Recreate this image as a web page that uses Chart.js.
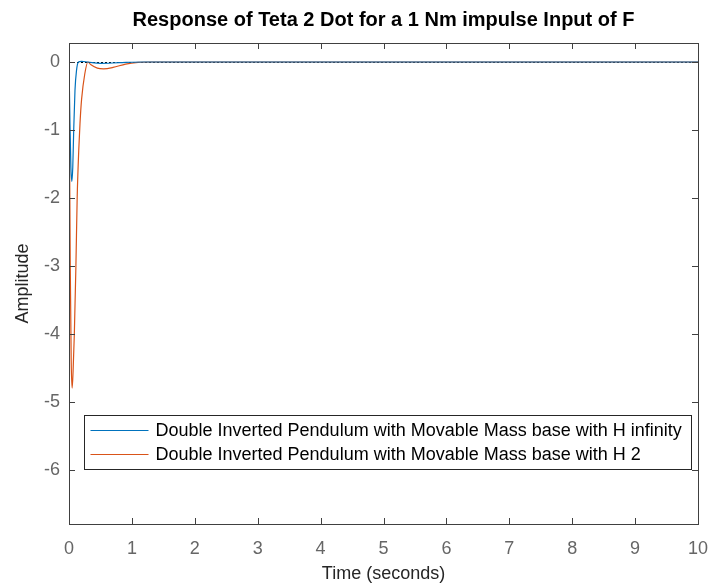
<!DOCTYPE html>
<html>
<head>
<meta charset="utf-8">
<script src="https://cdn.jsdelivr.net/npm/chart.js@4/dist/chart.umd.min.js"></script>
<style>
  html, body { margin: 0; padding: 0; background: #fff; }
  #wrap { width: 709px; height: 588px; }
</style>
</head>
<body>
<div id="wrap"><canvas id="chart" width="709" height="588"></canvas></div>
<script>
const chartTitle = 'Response of Teta 2 Dot for a 1 Nm impulse Input of F';
const seriesNames = [
  'Double Inverted Pendulum with Movable Mass base with H infinity',
  'Double Inverted Pendulum with Movable Mass base with H 2',
];

// H infinity controller response
const timeHinf = [0, 0.015, 0.03, 0.045, 0.06, 0.075, 0.095, 0.12, 0.15, 0.2, 0.3, 0.5, 0.8, 1.2, 10];
const ampHinf  = [0, -0.9, -1.55, -1.76, -1.55, -1.0, -0.42, -0.12, 0, 0.01, 0, -0.02, -0.01, 0, 0];

// H 2 controller response
const timeH2 = [0, 0.01, 0.02, 0.035, 0.05, 0.065, 0.085, 0.11, 0.13, 0.155, 0.175, 0.2, 0.25, 0.3, 0.35, 0.45, 0.55, 0.7, 0.9, 1.1, 1.3, 10];
const ampH2  = [0, -1.5, -3.0, -4.4, -4.8, -4.55, -4.0, -3.0, -2.0, -1.3, -0.9, -0.55, -0.18, 0, -0.04, -0.09, -0.1, -0.08, -0.03, -0.005, 0, 0];

const xTickValues = [0, 1, 2, 3, 4, 5, 6, 7, 8, 9, 10];
const yTickValues = [-6, -5, -4, -3, -2, -1, 0];

const FONT = 'Liberation Sans, Arial, Helvetica, sans-serif';
const seriesColors = ['#0072BD', '#D95319'];

const toPoints = (xs, ys) => xs.map((x, i) => ({ x, y: ys[i] }));

// dotted steady-state reference at zero
const zeroLine = {
  id: 'zeroLine',
  beforeDatasetsDraw(chart) {
    const { ctx, chartArea, scales } = chart;
    const y = Math.round(scales.y.getPixelForValue(0)) + 0.5;
    ctx.save();
    ctx.strokeStyle = '#000';
    ctx.lineWidth = 1;
    ctx.setLineDash([2, 2]);
    ctx.beginPath();
    ctx.moveTo(chartArea.left, y);
    ctx.lineTo(chartArea.right, y);
    ctx.stroke();
    ctx.restore();
  },
};

// box around the axes with inward ticks on every side
const axesBox = {
  id: 'axesBox',
  afterDraw(chart) {
    const { ctx, chartArea: a, scales } = chart;
    const len = 6;
    ctx.save();
    ctx.strokeStyle = '#404040';
    ctx.lineWidth = 1;
    ctx.strokeRect(Math.round(a.left) + 0.5, Math.round(a.top) + 0.5,
      Math.round(a.right - a.left), Math.round(a.bottom - a.top));
    ctx.beginPath();
    xTickValues.forEach(v => {
      const x = Math.round(scales.x.getPixelForValue(v)) + 0.5;
      ctx.moveTo(x, a.bottom); ctx.lineTo(x, a.bottom - len);
      ctx.moveTo(x, a.top); ctx.lineTo(x, a.top + len);
    });
    yTickValues.forEach(v => {
      const y = Math.round(scales.y.getPixelForValue(v)) + 0.5;
      ctx.moveTo(a.left, y); ctx.lineTo(a.left + len, y);
      ctx.moveTo(a.right, y); ctx.lineTo(a.right - len, y);
    });
    ctx.stroke();
    ctx.restore();
  },
};

// legend box in the lower part of the axes
const insideLegend = {
  id: 'insideLegend',
  afterDraw(chart) {
    const { ctx, chartArea: a } = chart;
    const left = Math.round(a.left) + 15.5, top = 415.5, w = 607, h = 54;
    ctx.save();
    ctx.fillStyle = '#fff';
    ctx.fillRect(left, top, w, h);
    ctx.strokeStyle = '#262626';
    ctx.lineWidth = 1;
    ctx.strokeRect(left, top, w, h);
    ctx.font = '18px ' + FONT;
    ctx.textBaseline = 'middle';
    chart.data.datasets.forEach((ds, i) => {
      const y = top + 15 + i * 24;
      ctx.strokeStyle = ds.borderColor;
      ctx.lineWidth = 1.2;
      ctx.beginPath();
      ctx.moveTo(left + 6, y);
      ctx.lineTo(left + 64, y);
      ctx.stroke();
      ctx.fillStyle = '#000';
      ctx.fillText(ds.label, left + 71, y + 1);
    });
    ctx.restore();
  },
};

const titlePlugin = {
  id: 'plotTitle',
  afterDraw(chart) {
    const { ctx, chartArea: a } = chart;
    ctx.save();
    ctx.font = 'bold 20px ' + FONT;
    ctx.fillStyle = '#000';
    ctx.textAlign = 'center';
    ctx.textBaseline = 'middle';
    ctx.fillText(chartTitle, (a.left + a.right) / 2, 20);
    ctx.restore();
  },
};

new Chart(document.getElementById('chart'), {
  type: 'line',
  data: {
    datasets: [
      {
        label: seriesNames[0],
        data: toPoints(timeHinf, ampHinf),
        borderColor: seriesColors[0],
        borderWidth: 1.2,
        pointRadius: 0,
        cubicInterpolationMode: 'monotone',
        fill: false,
      },
      {
        label: seriesNames[1],
        data: toPoints(timeH2, ampH2),
        borderColor: seriesColors[1],
        borderWidth: 1.2,
        pointRadius: 0,
        cubicInterpolationMode: 'monotone',
        fill: false,
      },
    ],
  },
  options: {
    responsive: false,
    animation: false,
    devicePixelRatio: 1,
    layout: { padding: { top: 43, right: 11, left: 0, bottom: 0 } },
    plugins: {
      legend: { display: false },
      tooltip: { enabled: false },
    },
    scales: {
      x: {
        type: 'linear',
        min: 0,
        max: 10,
        afterFit: s => { s.height = 64; s.paddingLeft = 0; s.paddingRight = 0; },
        afterBuildTicks: s => { s.ticks = xTickValues.map(v => ({ value: v })); },
        grid: { display: false, drawTicks: false },
        border: { display: false },
        ticks: { padding: 14, color: '#666', font: { family: FONT, size: 18 }, maxRotation: 0 },
        title: {
          display: true,
          text: 'Time (seconds)',
          color: '#262626',
          font: { family: FONT, size: 18 },
          padding: { top: 0, bottom: 3 },
        },
      },
      y: {
        type: 'linear',
        min: -6.8,
        max: 0.28,
        afterFit: s => { s.width = 69; },
        afterBuildTicks: s => { s.ticks = yTickValues.map(v => ({ value: v })); },
        grid: { display: false, drawTicks: false },
        border: { display: false },
        ticks: { padding: 9, color: '#666', font: { family: FONT, size: 18 } },
        title: {
          display: true,
          text: 'Amplitude',
          color: '#262626',
          font: { family: FONT, size: 18 },
          padding: { top: 12, bottom: 0 },
        },
      },
    },
  },
  plugins: [zeroLine, axesBox, insideLegend, titlePlugin],
});
</script>
</body>
</html>
